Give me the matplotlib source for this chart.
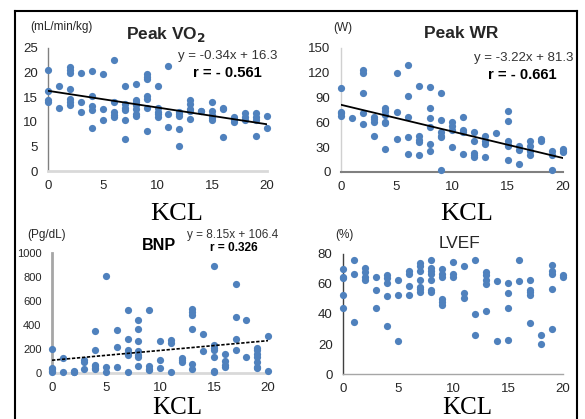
import matplotlib
matplotlib.use('Agg')
import matplotlib.pyplot as plt
from matplotlib.lines import Line2D

# ---- data ----
vo2_pts = {
    0: [20.6, 16.3, 14.5, 14.0], 1: [17.3, 12.9],
    2: [21.2, 20.6, 20.0, 16.6, 14.6, 14.0, 13.5], 3: [19.9, 14.1, 11.9],
    4: [20.3, 15.3, 13.2, 12.3, 8.8], 5: [19.8, 12.7, 10.3],
    6: [22.5, 14.0, 11.9, 11.3, 10.9], 7: [17.3, 13.6, 12.9, 12.4, 10.4, 6.6],
    8: [17.6, 14.5, 14.0, 13.5, 12.7, 11.6, 11.1],
    9: [19.7, 19.2, 18.7, 15.2, 14.7, 12.8, 8.2], 10: [17.3, 12.9, 12.0, 11.6, 10.9],
    11: [21.3, 11.6, 9.0], 12: [12.0, 11.6, 11.2, 8.6, 5.0],
    13: [14.5, 13.6, 12.6, 12.2, 10.5], 14: [12.2, 12.1],
    15: [14.1, 12.1, 11.4, 10.8, 10.3], 16: [12.8, 12.5, 7.0],
    17: [10.9, 10.3, 9.9], 18: [11.8, 11.0, 10.4], 19: [11.8, 11.0, 10.4, 7.2],
    20: [11.2, 8.8],
}
wr_pts = {
    0: [102, 73, 71, 68], 1: [65], 2: [123, 120, 96, 71, 58], 3: [67, 64, 60, 44],
    4: [78, 74, 69, 61, 59, 28], 5: [120, 72, 40], 6: [130, 92, 67, 42, 22],
    7: [104, 44, 39, 36, 20], 8: [103, 77, 65, 55, 34, 25],
    9: [96, 63, 48, 44, 42, 3], 10: [60, 56, 51, 30], 11: [66, 51, 48, 22],
    12: [48, 38, 23, 20, 18], 13: [43, 38, 34, 18], 14: [47],
    15: [74, 62, 38, 33, 31, 15], 16: [31, 27, 10], 17: [38, 31, 25, 21],
    18: [40, 38], 19: [26, 20, 3], 20: [28, 26, 24],
}
bnp_pts = {
    0: [200, 45, 30, 15, 5], 1: [125, 10], 2: [20, 10, 5], 3: [110, 95, 35],
    4: [350, 190, 70, 55, 40, 30], 5: [810, 50, 10], 6: [360, 215, 50],
    7: [525, 285, 195, 165, 150, 5], 8: [440, 370, 265, 180, 150, 130, 60],
    9: [525, 55, 35, 25], 10: [265, 110, 45], 11: [275, 250, 5],
    12: [125, 105, 95], 13: [535, 505, 485, 370, 75, 30], 14: [325, 185],
    15: [895, 235, 210, 195, 130, 20, 10], 16: [155, 100, 70, 50],
    17: [740, 465, 285, 190], 18: [445, 130],
    19: [210, 190, 160, 135, 95, 50, 40], 20: [310, 15],
}
lvef_pts = {
    0: [70, 65, 64, 53, 44], 1: [76, 67, 35], 2: [71, 68, 65, 63], 3: [65, 56, 44],
    4: [66, 64, 61, 52, 32], 5: [63, 53, 22], 6: [69, 67, 59, 53],
    7: [74, 72, 69, 63, 58, 57, 55], 8: [76, 71, 69, 67, 63, 56, 55],
    9: [70, 67, 65, 50, 48, 46], 10: [75, 67, 65], 11: [72, 54, 51],
    12: [76, 40, 26], 13: [68, 66, 63, 60, 42], 14: [62, 22],
    15: [61, 54, 44, 23], 16: [76, 62], 17: [63, 56, 55, 53, 34], 18: [26, 20],
    19: [73, 69, 67, 57, 30], 20: [66, 65],
}

vo2_fit = (-0.34, 16.3)
wr_fit = (-3.22, 81.3)
bnp_fit = (8.15, 106.4)

vo2_yticks = [0, 5, 10, 15, 20, 25]
wr_yticks = [0, 30, 60, 90, 120, 150]
bnp_yticks = [0, 200, 400, 600, 800, 1000]
lvef_yticks = [0, 20, 40, 60, 80]
x_ticks = [0, 5, 10, 15, 20]

W, H = 585, 419
BLUE = '#4F81BD'
SANS = 'Liberation Sans'
SERIF = 'Liberation Serif'


def flatten(pts):
    xs, ys = [], []
    for k, vals in pts.items():
        xs += [k] * len(vals)
        ys += vals
    return xs, ys


def px_axes(fig, x0, x1, y0, y1):
    # x0/x1: pixel of x=0 / x=20, y0/y1: pixel of y=0 / y=max
    return fig.add_axes([x0 / W, 1 - y0 / H, (x1 - x0) / W, (y0 - y1) / H])


def style(ax, yticks, left_c, left_w, bot_c, bot_w, tick_fs=9.5):
    ax.set_xlim(0, 20)
    ax.set_ylim(0, yticks[-1])
    ax.set_xticks(x_ticks)
    ax.set_yticks(yticks)
    for s in ('top', 'right'):
        ax.spines[s].set_visible(False)
    ax.spines['left'].set_color(left_c)
    ax.spines['left'].set_linewidth(left_w)
    ax.spines['bottom'].set_color(bot_c)
    ax.spines['bottom'].set_linewidth(bot_w)
    ax.tick_params(axis='x', length=0, pad=6.5, labelsize=9.5, colors='#262626')
    ax.tick_params(axis='y', length=0, pad=7.5, labelsize=tick_fs, colors='#262626')
    for lab in ax.get_xticklabels() + ax.get_yticklabels():
        lab.set_fontfamily(SANS)
    ax.patch.set_alpha(0)


def txt(fig, x, y, s, size, weight='normal', family=SANS, ha='center',
        color='#262626', va='center'):
    fig.text(x / W, 1 - y / H, s, fontsize=size, fontweight=weight,
             family=family, ha=ha, va=va, color=color)


fig = plt.figure(figsize=(W / 100, H / 100), dpi=100)

# Peak VO2
ax1 = px_axes(fig, 48, 267, 171, 48)
x, y = flatten(vo2_pts)
ax1.scatter(x, y, s=27, color=BLUE, clip_on=False, zorder=3, linewidths=0)
ax1.plot([0, 20], [vo2_fit[1], vo2_fit[0] * 20 + vo2_fit[1]], color='black', lw=1.3, zorder=4)
style(ax1, vo2_yticks, '#808080', 1.0, '#d9d9d9', 2.0)

# Peak WR
ax2 = px_axes(fig, 341, 563, 172, 48)
x, y = flatten(wr_pts)
ax2.scatter(x, y, s=27, color=BLUE, clip_on=False, zorder=3, linewidths=0)
ax2.plot([0, 20], [wr_fit[1], wr_fit[0] * 20 + wr_fit[1]], color='black', lw=1.3, zorder=4)
style(ax2, wr_yticks, '#d0d0d0', 1.0, '#808080', 1.5)

# BNP
ax3 = px_axes(fig, 52, 268, 373, 253)
x, y = flatten(bnp_pts)
ax3.scatter(x, y, s=27, color=BLUE, clip_on=False, zorder=3, linewidths=0)
ax3.plot([0, 20], [bnp_fit[1], bnp_fit[0] * 20 + bnp_fit[1]], color='black',
         lw=1.2, ls=(0, (2, 1)), zorder=4)
style(ax3, bnp_yticks, '#a6a6a6', 2.0, '#d9d9d9', 2.0, tick_fs=8)

# LVEF
ax4 = px_axes(fig, 343, 563, 374, 254)
x, y = flatten(lvef_pts)
ax4.scatter(x, y, s=27, color=BLUE, clip_on=False, zorder=3, linewidths=0)
style(ax4, lvef_yticks, '#404040', 1.0, '#a6a6a6', 1.0)

# titles, units and equations
txt(fig, 61, 27, '(mL/min/kg)', 8.5)
txt(fig, 166, 35, 'Peak VO$_\\mathbf{2}$', 12.5, 'bold')
txt(fig, 277, 56, 'y = -0.34x + 16.3', 9.5, ha='right', color='#333333')
txt(fig, 262, 73, 'r = - 0.561', 10.7, 'bold', ha='right', color='black')

txt(fig, 343, 28, '(W)', 8.5)
txt(fig, 461, 34, 'Peak WR', 12.5, 'bold')
txt(fig, 573, 58, 'y = -3.22x + 81.3', 9.5, ha='right', color='#333333')
txt(fig, 557, 75, 'r = - 0.661', 10.7, 'bold', ha='right', color='black')

txt(fig, 47, 235, '(Pg/dL)', 8.5)
txt(fig, 159, 245, 'BNP', 11.6, 'bold', color='black')
txt(fig, 278, 235, 'y = 8.15x + 106.4', 8.5, ha='right', color='#333333')
txt(fig, 258, 248, 'r = 0.326', 8.6, 'bold', ha='right', color='black')

txt(fig, 344, 235, '(%)', 8.5)
txt(fig, 459, 243, 'LVEF', 12.4)

# x axis labels (serif, as in the source document)
for cx in (177, 467):
    txt(fig, cx, 214, 'KCL', 19, family=SERIF, color='black')
    txt(fig, cx, 414, 'KCL', 18, family=SERIF, color='black', va='baseline')

# frame of the pasted figure
for xs, ys in [([15, 15], [11, 419]), ([15, 577], [11, 11]), ([577, 577], [11, 419])]:
    fig.add_artist(Line2D([v / W for v in xs], [1 - v / H for v in ys],
                          color='black', lw=1.5))

fig.savefig('out.png', dpi=100)
